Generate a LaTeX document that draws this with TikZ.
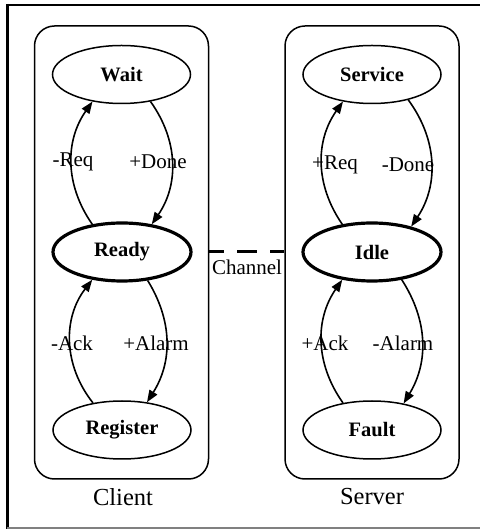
\documentclass[tikz,border=0pt]{standalone}
\usepackage{fontspec}
\setmainfont{Liberation Serif}
\usetikzlibrary{shapes.geometric,arrows.meta}
\begin{document}
\begin{tikzpicture}[x=1pt,y=1pt,
 state/.style={ellipse,draw,line width=1.5pt,minimum width=138pt,minimum height=58pt,inner sep=0pt,font=\fontsize{20.5}{20.5}\selectfont\bfseries},
 mainstate/.style={state,line width=3.2pt},
 group/.style={draw,line width=1.5pt,rounded corners=20pt,minimum width=174pt,minimum height=453pt},
 trans/.style={line width=1.6pt,-{Triangle[length=12pt,width=9pt]}},
 lab/.style={font=\fontsize{21}{21}\selectfont,inner sep=0pt},
 grouplab/.style={font=\fontsize{24.5}{24.5}\selectfont,inner sep=0pt}]
\useasboundingbox (0,0) rectangle (480,530);
% frame
\draw[line width=2pt] (6,525) -- (480,525);
\draw[line width=3pt] (7.5,526) -- (7.5,1);
\draw[gray,line width=1.5pt] (7,2) -- (480,2);
% groups
\node[group] (client) at (121.5,277.5) {};
\node[group] (server) at (372,277.5) {};
\node[grouplab] (clientlab) at (123,33) {Client};
\node[grouplab] (serverlab) at (372,33) {Server};
% states
\node[state] (Wait) at (121.5,455.5) {Wait};
\node[mainstate] (Ready) at (122,278) {Ready};
\node[state] (Register) at (122,100) {Register};
\node[state] (Service) at (372,455.5) {Service};
\node[mainstate] (Idle) at (372,278) {Idle};
\node[state] (Fault) at (372,100) {Fault};
% transitions client
\draw[trans] (Ready.137) to[bend left=35] (Wait.223);
\draw[trans] (Wait.317) to[bend left=35] (Ready.43);
\draw[trans] (Register.137) to[bend left=38] (Ready.223);
\draw[trans] (Ready.312) to[bend left=32] (Register.48);
% transitions server
\draw[trans] (Idle.137) to[bend left=35] (Service.223);
\draw[trans] (Service.325) to[bend left=35] (Idle.33);
\draw[trans] (Fault.137) to[bend left=35] (Idle.223);
\draw[trans] (Idle.317) to[bend left=32] (Fault.40);
% labels
\node[lab] (lreq) at (73,368) {-Req};
\node[lab] (ldone) at (158,368) {+Done};
\node[lab] (lack) at (72,187) {-Ack};
\node[lab] (lalarm) at (156,187) {+Alarm};
\node[lab] (sreq) at (335,365) {+Req};
\node[lab] (sdone) at (408,365) {-Done};
\node[lab] (sack) at (325,187) {+Ack};
\node[lab] (salarm) at (403,187) {-Alarm};
% channel
\draw[line width=3pt,dash pattern=on 20pt off 13pt,dash phase=5pt] (client.east |- Ready) -- (server.west |- Idle);
\node[lab] (channel) at (247,263) {Channel};
\end{tikzpicture}
\end{document}
